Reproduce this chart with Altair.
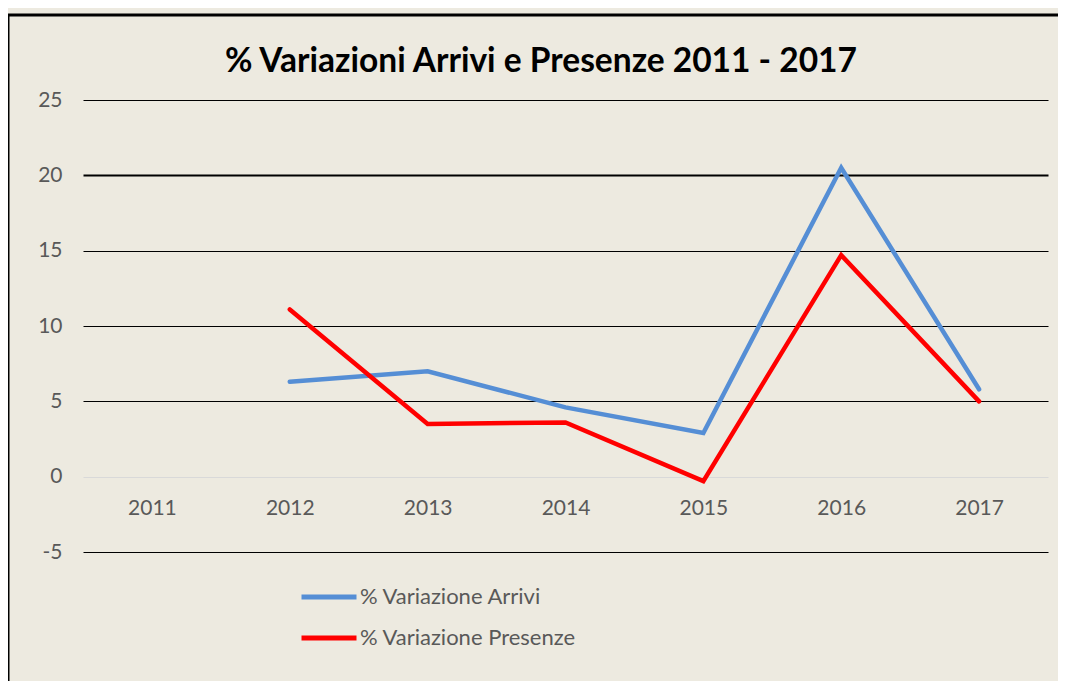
import altair as alt
import pandas as pd

years = ["2011", "2012", "2013", "2014", "2015", "2016", "2017"]
arrivi = [None, 6.3, 7.0, 4.6, 2.9, 20.5, 5.8]
presenze = [None, 11.1, 3.5, 3.6, -0.3, 14.7, 5.0]
series_names = ["% Variazione Arrivi", "% Variazione Presenze"]
series_colors = ["#558ED5", "#FF0000"]
y_ticks = [-5, 0, 5, 10, 15, 20, 25]
title_text = "% Variazioni Arrivi e Presenze 2011 - 2017"

rows = []
for name, vals in zip(series_names, [arrivi, presenze]):
    for yr, v in zip(years, vals):
        if v is not None:
            rows.append({"Anno": yr, "Valore": v, "Serie": name})
df = pd.DataFrame(rows)

FONT = "Lato"
LABEL_COLOR = "#595959"
BG = "#EDEAE0"

frame = alt.Chart(alt.Data(values=[{}])).mark_rect(
    fill=None, filled=False, stroke="black", strokeWidth=3
).encode(
    x=alt.value(-75), x2=alt.value(1000), y=alt.value(-85), y2=alt.value(620)
)

title = alt.Chart(alt.Data(values=[{"t": title_text}])).mark_text(
    font=FONT, fontSize=33.5, fontWeight="bold", color="black", align="center", baseline="middle"
).encode(text="t:N", x=alt.value(458), y=alt.value(-38))

lines = alt.Chart(df).mark_line(strokeWidth=4.5, strokeCap="round", strokeJoin="miter").encode(
    x=alt.X("Anno:O", scale=alt.Scale(domain=years, type="point", padding=0.5),
            axis=alt.Axis(title=None, orient="bottom", offset=-76, domain=False, ticks=False,
                          grid=False, labelAngle=0, labelFont=FONT, labelFontSize=21,
                          labelColor=LABEL_COLOR, labelPadding=21)),
    y=alt.Y("Valore:Q", scale=alt.Scale(domain=[-5, 25], nice=False, zero=False),
            axis=alt.Axis(title=None, values=y_ticks, domain=False, ticks=False,
                          labelFont=FONT, labelFontSize=21, labelColor=LABEL_COLOR,
                          labelPadding=21, labelExpr="'' + datum.value",
                          gridColor=alt.condition("datum.value == 0", alt.value("#D9D9D9"), alt.value("black")),
                          gridWidth=alt.condition("datum.value == 20", alt.value(2), alt.value(1)))),
    color=alt.Color("Serie:N", scale=alt.Scale(domain=series_names, range=series_colors),
                    legend=alt.Legend(title=None, orient="none", legendX=216, legendY=467,
                                      direction="vertical", symbolType="stroke",
                                      symbolSize=3025, symbolStrokeWidth=5,
                                      labelFont=FONT, labelFontSize=22, labelColor=LABEL_COLOR,
                                      labelLimit=400, rowPadding=-2, labelOffset=1)),
)

chart = alt.layer(frame, lines, title).properties(
    width=965, height=452,
    autosize=alt.AutoSizeParams(type="none"),
    padding={"left": 75, "top": 92, "right": 10, "bottom": 129},
    background=BG,
).configure_view(stroke=None)

chart.save("out.html", embed_options={"renderer": "svg", "actions": False})
